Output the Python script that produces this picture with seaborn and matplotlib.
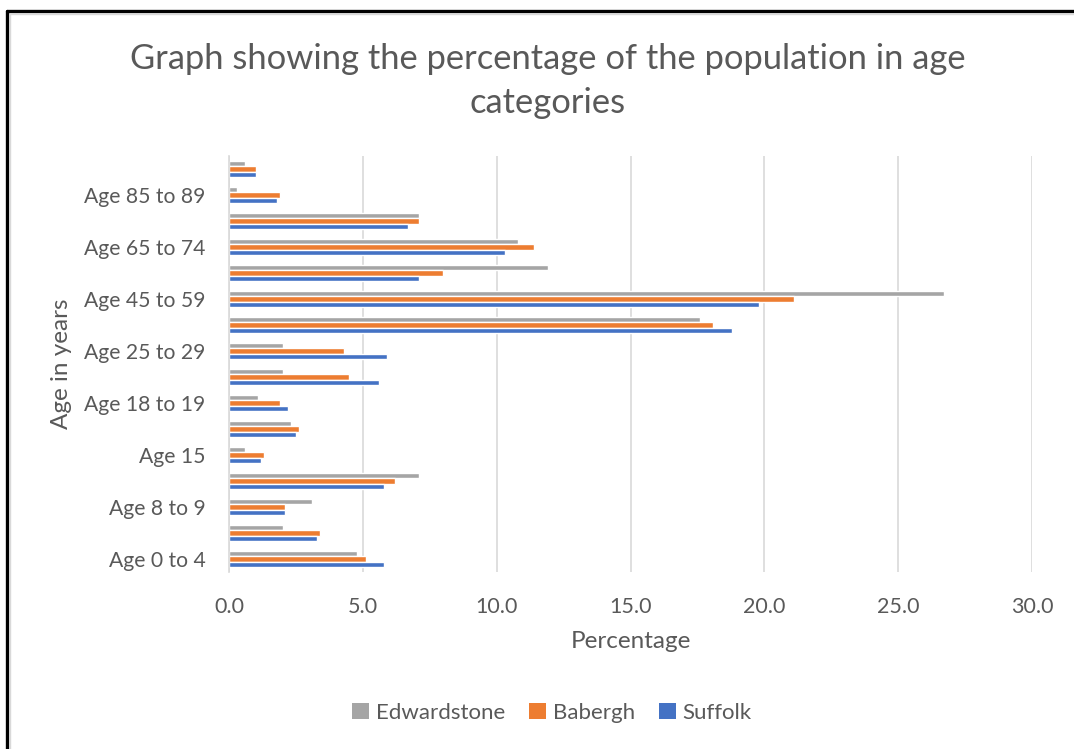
import matplotlib
matplotlib.use("Agg")
import matplotlib.pyplot as plt
import seaborn as sns
import pandas as pd
from matplotlib.lines import Line2D
from matplotlib.patches import Patch

categories = ["Age 0 to 4", "Age 5 to 7", "Age 8 to 9", "Age 10 to 14", "Age 15",
              "Age 16 to 17", "Age 18 to 19", "Age 20 to 24", "Age 25 to 29",
              "Age 30 to 44", "Age 45 to 59", "Age 60 to 64", "Age 65 to 74",
              "Age 75 to 84", "Age 85 to 89", "Age 90 and over"]
shown_labels = ["Age 0 to 4", "Age 8 to 9", "Age 15", "Age 18 to 19", "Age 25 to 29",
                "Age 45 to 59", "Age 65 to 74", "Age 85 to 89"]
series_names = ["Edwardstone", "Babergh", "Suffolk"]
edwardstone = [4.8, 2.0, 3.1, 7.1, 0.6, 2.3, 1.1, 2.0, 2.0, 17.6, 26.7, 11.9, 10.8, 7.1, 0.3, 0.6]
babergh = [5.1, 3.4, 2.1, 6.2, 1.3, 2.6, 1.9, 4.5, 4.3, 18.1, 21.1, 8.0, 11.4, 7.1, 1.9, 1.0]
suffolk = [5.8, 3.3, 2.1, 5.8, 1.2, 2.5, 2.2, 5.6, 5.9, 18.8, 19.8, 7.1, 10.3, 6.7, 1.8, 1.0]
x_ticks = [0, 5, 10, 15, 20, 25, 30]
colors = {"Edwardstone": "#A5A5A5", "Babergh": "#ED7D31", "Suffolk": "#4472C4"}

rows = []
for name, vals in zip(series_names, [edwardstone, babergh, suffolk]):
    for c, v in zip(categories, vals):
        rows.append({"Age": c, "Area": name, "Percentage": v})
df = pd.DataFrame(rows)

sns.set_theme(style="white")
plt.rcParams['font.family'] = ['Lato', 'DejaVu Sans']
text_color = "#595959"

fig = plt.figure(figsize=(10.74, 7.49), dpi=100)
ax = fig.add_axes([229 / 1074, 1 - 572 / 749, (1032 - 229) / 1074, (572 - 156) / 749])

sns.barplot(data=df, y="Age", x="Percentage", hue="Area", order=categories[::-1],
            hue_order=series_names, palette=colors, orient="h", width=0.64,
            saturation=1, legend=False, ax=ax, errorbar=None)

ax.set_xlim(0, 30)
ax.set_xticks(x_ticks)
ax.set_xticklabels([f"{t:.1f}" for t in x_ticks])
order = categories[::-1]
ax.set_yticks(range(len(order)))
ax.set_yticklabels([c if c in shown_labels else "" for c in order])
ax.set_ylim(len(order) - 0.5, -0.5)

ax.grid(axis="x", color="#D9D9D9", linewidth=1.2)
ax.set_axisbelow(True)
for s in ["top", "right", "bottom"]:
    ax.spines[s].set_visible(False)
ax.spines["left"].set_color("#D9D9D9")
ax.spines["left"].set_linewidth(1.2)
ax.tick_params(axis="y", length=0, pad=17, labelsize=15.2, labelcolor=text_color)
ax.tick_params(axis="x", length=0, pad=18, labelsize=15.5, labelcolor=text_color)

ax.set_xlabel("")
ax.set_ylabel("")
fig.text(631 / 1074, 1 - 641 / 749, "Percentage", fontsize=17.5, color=text_color,
         ha="center", va="center")
fig.text(62 / 1074, 1 - 364 / 749, "Age in years", rotation=90, fontsize=17.5,
         color=text_color, ha="center", va="center")

fig.text(548 / 1074, 1 - 81 / 749,
         "Graph showing the percentage of the population in age\ncategories",
         ha="center", va="center", fontsize=24.8, color=text_color, linespacing=1.48)

handles = [Patch(facecolor=colors[n], edgecolor="none", label=n) for n in series_names]
fig.legend(handles=handles, loc="center", bbox_to_anchor=(552 / 1074, 1 - 713 / 749),
           ncol=3, frameon=False, fontsize=16, handlelength=0.75, handleheight=0.75,
           handletextpad=0.3, columnspacing=1.1, labelcolor=text_color)

# outer frame (top and left edges visible)
fig.add_artist(Line2D([7 / 1074, 1], [1 - 11 / 749, 1 - 11 / 749], color="black",
                      lw=2.4, transform=fig.transFigure))
fig.add_artist(Line2D([7 / 1074, 7 / 1074], [0, 1 - 11 / 749], color="black",
                      lw=2.4, transform=fig.transFigure))
fig.add_artist(Line2D([9.5 / 1074, 1], [1 - 13.5 / 749, 1 - 13.5 / 749], color="#D9D9D9",
                      lw=1, transform=fig.transFigure))
fig.add_artist(Line2D([9.5 / 1074, 9.5 / 1074], [0, 1 - 13.5 / 749], color="#D9D9D9",
                      lw=1, transform=fig.transFigure))

fig.savefig("out.png", dpi=100, facecolor="white")
